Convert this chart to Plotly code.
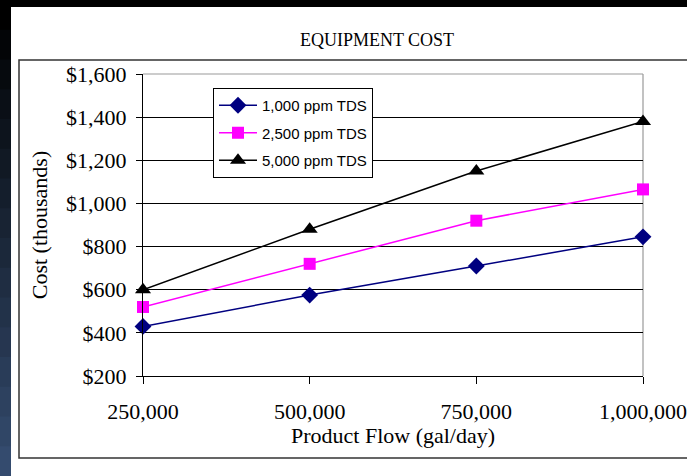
import plotly.graph_objects as go

flow = [250000, 500000, 750000, 1000000]
flow_labels = ["250,000", "500,000", "750,000", "1,000,000"]
tds_1000 = [430, 575, 710, 845]
tds_2500 = [520, 720, 920, 1065]
tds_5000 = [600, 880, 1150, 1380]
y_ticks = [200, 400, 600, 800, 1000, 1200, 1400, 1600]
y_labels = ["$200", "$400", "$600", "$800", "$1,000", "$1,200", "$1,400", "$1,600"]

W, H = 687, 476
L, R, T, B = 143, 643, 74, 376  # plot area pixels

def px(x):
    return (x - L) / (R - L)

def py(y):
    return (B - y) / (B - T)

fig = go.Figure()
series = [
    ("1,000 ppm TDS", tds_1000, "#000080", "diamond", 13),
    ("2,500 ppm TDS", tds_2500, "#FF00FF", "square", 12),
    ("5,000 ppm TDS", tds_5000, "#000000", "triangle-up", 14),
]
for i, (name, vals, col, sym, sz) in enumerate(series):
    fig.add_trace(go.Scatter(
        x=flow, y=vals, name=name, mode="lines+markers",
        line=dict(color=col, width=1.5),
        marker=dict(symbol=sym, size=sz, color=col),
        legendgroup=f"g{i}", cliponaxis=False,
    ))

shapes = []
# dark frame strips (gradient approximation on the left)
n = 16
for k in range(n):
    t = k / (n - 1)
    r = int(0 + t * 52)
    g = int(0 + t * 75)
    b = int(0 + t * 110)
    shapes.append(dict(type="rect", xref="paper", yref="paper", layer="below",
                       x0=px(0), x1=px(11), y0=py(k * H / n), y1=py((k + 1) * H / n + 1),
                       line=dict(width=0), fillcolor=f"rgb({r},{g},{b})"))
shapes.append(dict(type="rect", xref="paper", yref="paper", layer="below",
                   x0=px(0), x1=px(W), y0=py(0), y1=py(7),
                   line=dict(width=0), fillcolor="black"))
# outer chart border
shapes.append(dict(type="rect", xref="paper", yref="paper", layer="below",
                   x0=px(19), x1=px(W + 20), y0=py(458), y1=py(60),
                   line=dict(color="#333333", width=1.5), fillcolor="rgba(0,0,0,0)"))
# plot area right / top border (grey)
shapes.append(dict(type="line", xref="paper", yref="paper", layer="below",
                   x0=1, x1=1, y0=0, y1=1, line=dict(color="#999999", width=1.2)))
shapes.append(dict(type="line", xref="paper", yref="paper", layer="above",
                   x0=0, x1=1, y0=1, y1=1, line=dict(color="#999999", width=1.2)))

serif = "Liberation Serif, Times New Roman, serif"
fig.update_layout(
    width=W, height=H,
    margin=dict(l=L, r=W - R, t=T, b=H - B, autoexpand=False),
    paper_bgcolor="white", plot_bgcolor="rgba(0,0,0,0)",
    shapes=shapes,
    title=dict(text="EQUIPMENT COST", x=px(377), xref="paper", xanchor="center",
               y=1 - 40 / H, yref="container", yanchor="middle",
               font=dict(family=serif, size=18, color="black")),
    showlegend=True,
    legend=dict(x=px(213), y=py(88), xanchor="left", yanchor="top",
                bgcolor="white", bordercolor="black", borderwidth=1,
                font=dict(family="Liberation Sans, Arial, sans-serif", size=15, color="black"),
                tracegroupgap=5, itemwidth=38),
    xaxis=dict(range=[250000, 1000000], tickvals=flow, ticktext=flow_labels,
               showgrid=False, showline=True, linecolor="black", linewidth=1.2,
               ticks="outside", ticklen=7, tickcolor="black", tickwidth=1.2,
               ticklabelstandoff=8, zeroline=False, automargin=False,
               tickfont=dict(family=serif, size=22, color="black"),
               title=dict(text="Product Flow (gal/day)", standoff=0,
                          font=dict(family=serif, size=22, color="black"))),
    yaxis=dict(range=[200, 1600], tickvals=y_ticks, ticktext=y_labels,
               showgrid=True, gridcolor="black", gridwidth=1,
               showline=True, linecolor="black", linewidth=1.2,
               ticks="outside", ticklen=6, tickcolor="black", tickwidth=1.2,
               ticklabelstandoff=5, zeroline=False, automargin=False,
               tickfont=dict(family=serif, size=22, color="black"),
               title=dict(text="Cost (thousands)", standoff=12,
                          font=dict(family=serif, size=22, color="black"))),
)
fig.write_html(
    "out.html",
    config={"displayModeBar": False},
    post_script="document.body.style.margin='0';document.body.style.overflow='hidden';",
)
